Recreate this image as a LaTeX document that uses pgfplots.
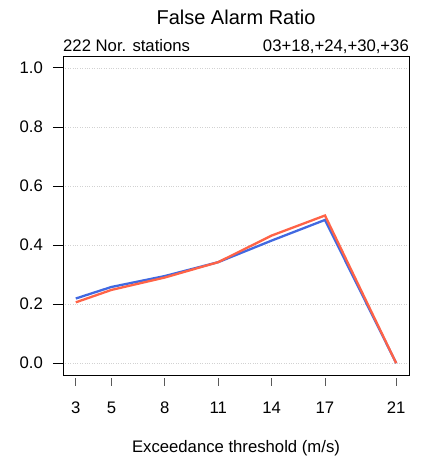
\documentclass[border=0pt]{standalone}
\usepackage{fontspec}
\setmainfont{Liberation Sans}
\usepackage{pgfplots}
\pgfplotsset{compat=1.18}

\definecolor{farblue}{RGB}{65,105,225}
\definecolor{farred}{RGB}{255,99,71}

\begin{document}
\begin{tikzpicture}[x=1pt,y=1pt,font=\fontsize{16.7pt}{20pt}\selectfont]
\useasboundingbox (0,0) rectangle (428,462);
% main axis: box, y ticks, grid, data
\begin{axis}[
  at={(63pt,87pt)}, anchor=south west,
  scale only axis, width=346pt, height=319pt,
  xmin=2.28, xmax=21.72, ymin=-0.04, ymax=1.04,
  axis line style={line width=0.7pt},
  xtick=\empty,
  ytick={0,0.2,0.4,0.6,0.8,1},
  ytick pos=left, tick align=outside,
  major tick length=10pt,
  ytick style={line width=0.7pt, black},
  yticklabel style={/pgf/number format/.cd, fixed, fixed zerofill, precision=1, assume math mode=true,
    /tikz/.cd, anchor=east, inner sep=0pt, xshift=-10pt},
  ymajorgrids,
  major grid style={dotted, gray!35, line width=0.6pt},
  title={\fontsize{20pt}{24pt}\selectfont False Alarm Ratio},
  title style={at={(axis description cs:0.5,1)}, anchor=base, yshift=25pt, inner sep=0pt},
  xlabel={Exceedance threshold (m/s)},
  xlabel style={at={(axis description cs:0.5,0)}, anchor=base, yshift=-77pt, inner sep=0pt},
  clip=false,
]
\addplot[farblue, line width=2.3pt] coordinates {
  (3,0.219) (5,0.258) (8,0.295) (11,0.342) (14,0.415) (17,0.485) (21,0.0)};
\addplot[farred, line width=2.3pt] coordinates {
  (3,0.206) (5,0.248) (8,0.290) (11,0.342) (14,0.432) (17,0.500) (21,0.0)};
\node[anchor=base west, inner sep=0pt] at (axis description cs:0,1) [yshift=4.3pt] {222 Nor. stations};
\node[anchor=base east, inner sep=0pt] at (axis description cs:1,1) [yshift=4.3pt] {03+18,+24,+30,+36};
\end{axis}
% overlay axis: x ticks set apart below the box
\begin{axis}[
  at={(63pt,87pt)}, anchor=south west,
  scale only axis, width=346pt, height=319pt,
  xmin=2.28, xmax=21.72, ymin=-0.04, ymax=1.04,
  hide y axis,
  axis x line*=bottom,
  x axis line style={draw=none},
  xtick={3,5,8,11,14,17,21},
  tick align=outside,
  major tick length=7.5pt,
  xtick style={line width=0.8pt, gray!70!black, yshift=-3.5pt},
  xticklabel style={anchor=north, inner sep=0pt, yshift=-19pt},
  /pgf/number format/assume math mode=true,
]
\end{axis}
\end{tikzpicture}
\end{document}
